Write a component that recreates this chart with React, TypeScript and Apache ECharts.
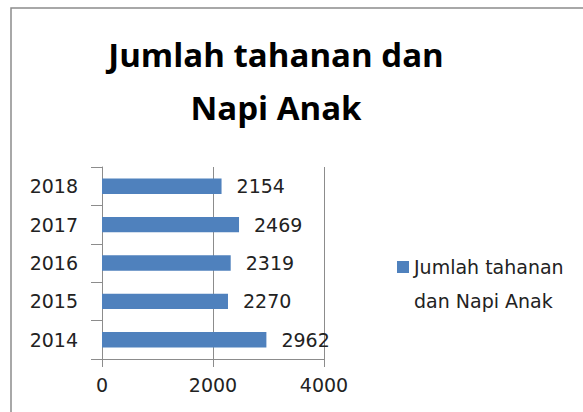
import React, { useEffect, useRef } from "react";
import * as echarts from "echarts";

const categories = ["2014", "2015", "2016", "2017", "2018"];
const values = [2962, 2270, 2319, 2469, 2154];
const xTicks = [0, 2000, 4000];
const seriesName = "Jumlah tahanan dan Napi Anak";
const titleText = "Jumlah tahanan dan\nNapi Anak";

const FONT = "'Open Sans', 'Noto Sans', sans-serif";
const NUMFONT = "'DejaVu Sans', sans-serif";

export default function App() {
  const ref = useRef<HTMLDivElement>(null);
  useEffect(() => {
    if (!ref.current) return;
    const chart = echarts.init(ref.current, null, { renderer: "svg" });
    chart.setOption({
      animation: false,
      backgroundColor: "#ffffff",
      title: {
        text: titleText,
        left: 271,
        textAlign: "center",
        top: 23,
        textStyle: {
          fontFamily: FONT,
          fontWeight: "bold",
          fontSize: 33,
          lineHeight: 53,
          color: "#000000",
        },
      },
      legend: {
        left: 392,
        top: 245,
        orient: "vertical",
        itemWidth: 12,
        itemHeight: 46,
        itemGap: 0,
        icon: "path://M0 0h12v12H0z M0 46L0.01 46",
        formatter: () => "Jumlah tahanan\ndan Napi Anak",
        textStyle: {
          fontFamily: NUMFONT,
          fontSize: 19,
          lineHeight: 34,
          color: "#222222",
        },
        data: [seriesName],
      },
      graphic: [
        {
          type: "polyline",
          shape: { points: [[11, 412], [11, 8], [583, 8]] },
          style: { stroke: "#8c8c8c", lineWidth: 1.5, fill: "none" },
          silent: true,
        },
      ],
      grid: { left: 102, right: 259, top: 167, bottom: 53, containLabel: false },
      xAxis: {
        type: "value",
        min: 0,
        max: 4000,
        interval: 2000,
        axisLine: { show: true, lineStyle: { color: "#8c8c8c" } },
        axisTick: { show: true, length: 8, lineStyle: { color: "#8c8c8c" } },
        splitLine: { show: true, lineStyle: { color: "#8c8c8c" } },
        axisLabel: {
          fontFamily: NUMFONT,
          fontSize: 19,
          color: "#222222",
          margin: 16,
          formatter: (v: number) => (xTicks.includes(v) ? String(v) : ""),
        },
      },
      yAxis: {
        type: "category",
        data: categories,
        axisLine: { show: true, lineStyle: { color: "#8c8c8c" } },
        axisTick: { show: true, length: 11, lineStyle: { color: "#8c8c8c" } },
        axisLabel: { fontFamily: NUMFONT, fontSize: 19, color: "#222222", margin: 24 },
      },
      series: [
        {
          name: seriesName,
          type: "bar",
          data: values,
          barCategoryGap: "60%",
          itemStyle: { color: "#4F81BD" },
          label: {
            show: true,
            position: "right",
            distance: 15,
            fontFamily: NUMFONT,
            fontSize: 19,
            color: "#222222",
          },
        },
      ],
    });
    return () => chart.dispose();
  }, []);
  return (
    <div
      ref={ref}
      style={{ position: "fixed", left: 0, top: 0, width: 583, height: 412 }}
    />
  );
}
